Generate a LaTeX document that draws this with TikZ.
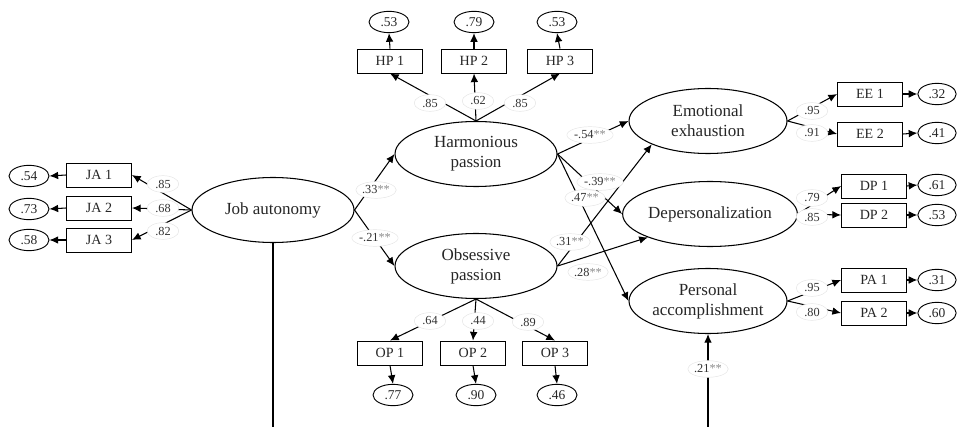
\documentclass[tikz,border=0pt]{standalone}
\usepackage{fontspec}
\setmainfont{Liberation Serif}
\usetikzlibrary{arrows.meta}
\usetikzlibrary{shapes.geometric}

\newcommand{\stars}{\textcolor{black!45}{**}}

\tikzset{
  latent/.style={draw, ellipse, line width=0.9pt, minimum width=4.86cm, minimum height=1.95cm,
    inner sep=0pt, align=center, text=black!85, font=\fontsize{14.5}{17}\selectfont},
  item/.style={draw, rectangle, line width=0.8pt, minimum width=1.95cm, minimum height=0.72cm,
    inner sep=0pt, text=black!85, font=\fontsize{12}{13}\selectfont},
  resid/.style={draw, ellipse, line width=0.8pt, minimum width=1.2cm, minimum height=0.64cm,
    inner sep=0pt, text=black!85, font=\fontsize{11.5}{12}\selectfont},
  coef/.style={draw=black!10, fill=white, ellipse, inner sep=0.4pt, minimum width=0.95cm,
    minimum height=0.5cm, text=black!80, font=\fontsize{10.5}{11}\selectfont},
  arr/.style={line width=0.9pt, -{Latex[length=2.6mm,width=2.3mm]}}
}

\begin{document}
\begin{tikzpicture}[x=0.03cm, y=-0.03cm]
    \useasboundingbox (0,0) rectangle (957,427);

    % latent variables
    \node [latent] (ja) at (273,210) {Job autonomy};
    \node [latent] (hp) at (476,154) {Harmonious\\passion};
    \node [latent] (op) at (476,266) {Obsessive\\passion};
    \node [latent, minimum width=4.74cm] (ee) at (708,121) {Emotional\\exhaustion};
    \node [latent, minimum width=4.8cm] (dp) at (710,214) {Depersonalization};
    \node [latent, minimum width=4.74cm] (pa) at (708,301) {Personal\\accomplishment};

    % indicators
    \node [item] (ja1) at (99,175) {JA 1};
    \node [item] (ja2) at (99,208) {JA 2};
    \node [item] (ja3) at (99,240) {JA 3};
    \node [item] (hp1) at (390,61) {HP 1};
    \node [item] (hp2) at (474,61) {HP 2};
    \node [item] (hp3) at (560,61) {HP 3};
    \node [item] (op1) at (390,353) {OP 1};
    \node [item] (op2) at (473,353) {OP 2};
    \node [item] (op3) at (555,353) {OP 3};
    \node [item] (ee1) at (870,94) {EE 1};
    \node [item] (ee2) at (870,134) {EE 2};
    \node [item] (dp1) at (874,186) {DP 1};
    \node [item] (dp2) at (874,215) {DP 2};
    \node [item] (pa1) at (874,280) {PA 1};
    \node [item] (pa2) at (874,313) {PA 2};

    % residuals
    \node [resid] (rja1) at (29,176) {.54};
    \node [resid] (rja2) at (29,209) {.73};
    \node [resid] (rja3) at (29,240) {.58};
    \node [resid] (rhp1) at (389,22) {.53};
    \node [resid] (rhp2) at (474,22) {.79};
    \node [resid] (rhp3) at (557,22) {.53};
    \node [resid] (rop1) at (393,395) {.77};
    \node [resid] (rop2) at (476,395) {.90};
    \node [resid] (rop3) at (557,395) {.46};
    \node [resid, minimum width=1.15cm] (ree1) at (937,94) {.32};
    \node [resid, minimum width=1.15cm] (ree2) at (937,133) {.41};
    \node [resid, minimum width=1.15cm] (rdp1) at (937,185) {.61};
    \node [resid, minimum width=1.15cm] (rdp2) at (937,215) {.53};
    \node [resid, minimum width=1.15cm] (rpa1) at (937,280) {.31};
    \node [resid, minimum width=1.15cm] (rpa2) at (937,313) {.60};

    % loadings
    \draw [arr] (ja.west) -- (ja1.east);
    \draw [arr] (ja.west) -- (ja2.east);
    \draw [arr] (ja.west) -- (ja3.east);
    \draw [arr] (hp.north) -- (hp1.south);
    \draw [arr] (hp.north) -- (hp2.south);
    \draw [arr] (hp.north) -- (hp3.south);
    \draw [arr] (op.south) -- (op1.north);
    \draw [arr] (op.south) -- (op2.north);
    \draw [arr] (op.south) -- (op3.north);
    \draw [arr] (ee.east) -- (ee1.west);
    \draw [arr] (ee.east) -- (ee2.west);
    \draw [arr] (dp.east) -- (dp1.west);
    \draw [arr] (dp.east) -- (dp2.west);
    \draw [arr] (pa.east) -- (pa1.west);
    \draw [arr] (pa.east) -- (pa2.west);

    % error terms
    \draw [arr] (ja1.west) -- (rja1.east);
    \draw [arr] (ja2.west) -- (rja2.east);
    \draw [arr] (ja3.west) -- (rja3.east);
    \draw [arr] (hp1.north) -- (rhp1.south);
    \draw [arr] (hp2.north) -- (rhp2.south);
    \draw [arr] (hp3.north) -- (rhp3.south);
    \draw [arr] (op1.south) -- (rop1.north);
    \draw [arr] (op2.south) -- (rop2.north);
    \draw [arr] (op3.south) -- (rop3.north);
    \draw [arr] (ee1.east) -- (ree1.west);
    \draw [arr] (ee2.east) -- (ree2.west);
    \draw [arr] (dp1.east) -- (rdp1.west);
    \draw [arr] (dp2.east) -- (rdp2.west);
    \draw [arr] (pa1.east) -- (rpa1.west);
    \draw [arr] (pa2.east) -- (rpa2.west);

    % structural paths
    \draw [arr] (ja.east) -- (hp.west);
    \draw [arr] (ja.east) -- (op.west);
    \draw [arr] (hp.east) -- (ee.west);
    \draw [arr] (hp.east) -- (dp.west);
    \draw [arr] (hp.east) -- (pa.west);
    \draw [arr] (op.east) -- (ee.south west);
    \draw [arr] (op.east) -- (dp.south west);
    \coordinate (jabot) at (273,427);
    \coordinate (pabot) at (708,427);
    \draw [line width=0.9pt] (ja.south) -- (jabot);
    \draw [arr] (pabot) -- (pa.south);

    % coefficients
    \node [coef] (cja1) at (163,184) {.85};
    \node [coef] (cja2) at (163,208) {.68};
    \node [coef] (cja3) at (163,231) {.82};
    \node [coef] (chp1) at (430,103) {.85};
    \node [coef] (chp2) at (478,101) {.62};
    \node [coef] (chp3) at (520,103) {.85};
    \node [coef] (cop1) at (430,321) {.64};
    \node [coef] (cop2) at (478,321) {.44};
    \node [coef] (cop3) at (528,322) {.89};
    \node [coef] (cee1) at (812,111) {.95};
    \node [coef] (cee2) at (812,133) {.91};
    \node [coef] (cdp1) at (812,198) {.79};
    \node [coef] (cdp2) at (812,217) {.85};
    \node [coef] (cpa1) at (812,288) {.95};
    \node [coef] (cpa2) at (812,312) {.80};
    \node [coef] (cjahp) at (376,190) {.33\stars};
    \node [coef] (cjaop) at (375,238) {-.21\stars};
    \node [coef] (chpee) at (590,135) {-.54\stars};
    \node [coef] (chpdp) at (600,182) {-.39\stars};
    \node [coef] (chppa) at (585,198) {.47\stars};
    \node [coef] (copee) at (570,242) {.31\stars};
    \node [coef] (copdp) at (588,272) {.28\stars};
    \node [coef] (cjapa) at (708,369) {.21\stars};
\end{tikzpicture}
\end{document}
